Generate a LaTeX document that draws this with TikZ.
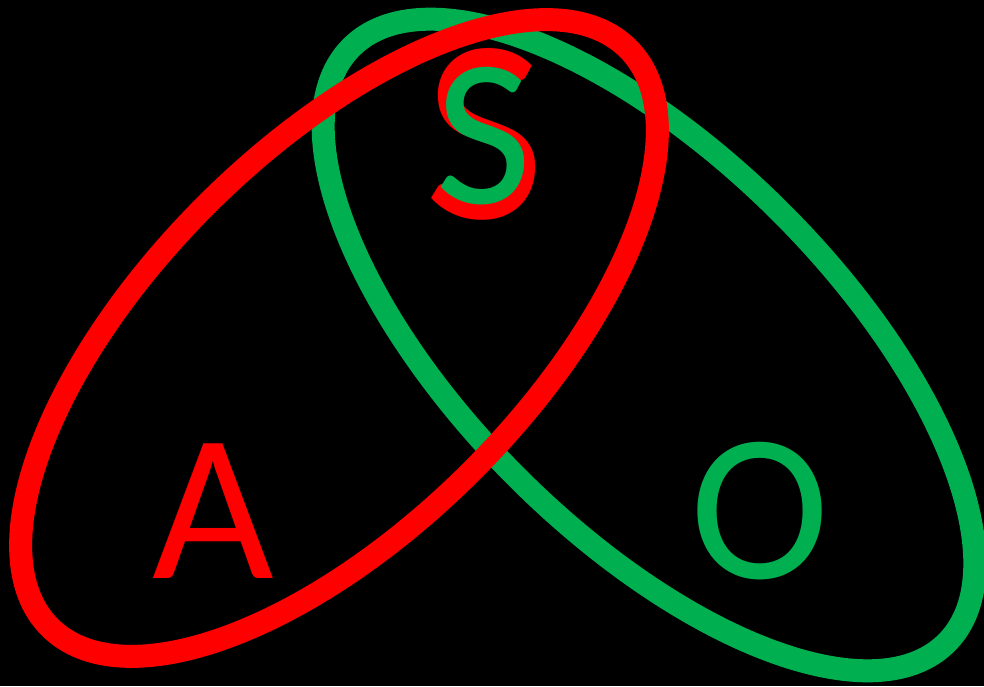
\documentclass[tikz,border=0pt]{standalone}
\usepackage{fontspec}
\setmainfont{Carlito}
\definecolor{offred}{RGB}{255,0,0}
\definecolor{offgreen}{RGB}{0,176,80}
\tikzset{
  ring/.style={line width=23pt},
  letter/.style={inner sep=0pt, anchor=base, font=\fontsize{210}{210}\selectfont},
  bigletter/.style={inner sep=0pt, anchor=base, font=\fontsize{262}{262}\selectfont}
}
\begin{document}
\begin{tikzpicture}[x=1pt,y=1pt]
\fill[black] (0,0) rectangle (984,686);
\useasboundingbox (0,0) rectangle (984,686);
\coordinate (gc) at (649,341);
\coordinate (rc) at (339,348);
\draw[ring, offgreen, rotate around={-45:(gc)}] (gc) ellipse [x radius=421pt, y radius=187pt];
\draw[ring, offred, rotate around={45:(rc)}] (rc) ellipse [x radius=409pt, y radius=188pt];
\node[bigletter, text=offred] (sred) at (485,467) {S};
\node[letter, text=offgreen] (sgreen) at (484,482) {S};
\node[letter, text=offred] (a) at (213,108) {A};
\node[letter, text=offgreen] (o) at (760,108) {O};
\end{tikzpicture}
\end{document}
